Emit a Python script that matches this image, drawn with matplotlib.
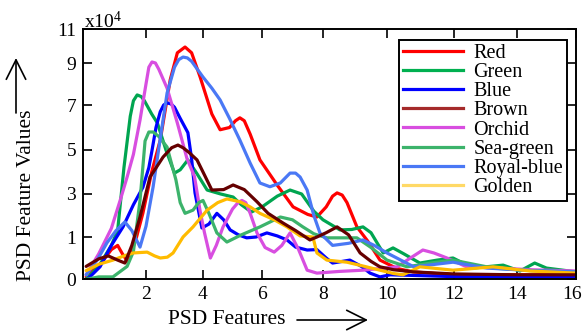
import numpy as np
import matplotlib
matplotlib.use('Agg')
import matplotlib.pyplot as plt
import matplotlib.transforms as mtransforms
from matplotlib.lines import Line2D
from matplotlib.patches import FancyArrowPatch

plt.rcParams['font.family'] = ['Liberation Serif', 'DejaVu Serif']
plt.rcParams['mathtext.fontset'] = 'custom'
plt.rcParams['mathtext.rm'] = 'Liberation Serif'
plt.rcParams['mathtext.it'] = 'Liberation Serif:italic'

# data (y in units of 1e4)
red_x = [0.1, 0.6, 0.9, 1.1, 1.25, 1.43, 1.7, 1.9, 2.2, 2.5, 2.85, 3.1, 3.37, 3.6, 3.9, 4.3, 4.58, 4.9, 5.1,
         5.25, 5.4, 5.6, 5.93, 6.5, 7.02, 7.5, 7.8, 8.1, 8.3, 8.44, 8.6, 8.75, 9.06, 9.4, 9.78, 10.3, 10.78,
         11.97, 13, 14, 15, 16]
red_y = [0.05, 0.4, 0.7, 0.8, 0.6, 0.4, 1.0, 2.1, 4.0, 5.44, 8.2, 9.6, 9.94, 9.6, 8.33, 6.6, 5.9, 6.0, 6.3,
         6.43, 6.3, 5.7, 4.55, 3.4, 2.4, 2.05, 1.93, 2.4, 2.9, 3.05, 2.95, 2.6, 1.47, 0.9, 0.45, 0.25, 0.17,
         0.1, 0.1, 0.1, 0.1, 0.1]

green_x = [0.1, 0.5, 0.9, 1.1, 1.3, 1.5, 1.6, 1.72, 1.85, 1.95, 2.2, 2.4, 2.7, 3.0, 3.2, 3.47, 3.8, 4.14, 4.6,
           5.02, 5.3, 5.64, 6.0, 6.5, 6.92, 7.3, 7.7, 8.0, 8.53, 8.9, 9.25, 9.5, 9.88, 10.18, 10.5, 10.98,
           11.5, 11.97, 12.6, 13.56, 14.1, 14.6, 15.0, 16]
green_y = [0.0, 0.3, 0.8, 1.3, 4.2, 6.5, 7.2, 7.48, 7.4, 7.2, 6.6, 6.2, 5.0, 3.95, 4.1, 4.55, 3.9, 3.18, 3.0,
           2.86, 2.5, 2.16, 2.4, 2.9, 3.18, 3.0, 2.2, 1.8, 1.33, 1.35, 1.47, 1.2, 0.62, 0.74, 0.6, 0.38,
           0.45, 0.5, 0.26, 0.33, 0.19, 0.38, 0.26, 0.17]

blue_x = [0.15, 0.54, 0.9, 1.27, 1.6, 1.9, 2.1, 2.2, 2.35, 2.5, 2.62, 2.74, 2.88, 3.0, 3.19, 3.47, 3.6, 3.72,
          3.96, 4.2, 4.47, 4.7, 4.92, 5.2, 5.48, 5.8, 6.16, 6.5, 6.82, 7.1, 7.48, 7.8, 8.1, 8.3, 8.84, 9.2,
          9.47, 9.78, 10.1, 11, 12.3, 14, 16]
blue_y = [0.0, 0.29, 0.8, 1.47, 2.5, 3.3, 4.2, 4.9, 6.0, 6.7, 7.0, 7.1, 7.05, 6.9, 6.43, 5.77, 4.6, 3.05,
          1.42, 1.6, 2.1, 1.8, 1.33, 1.1, 0.98, 1.0, 1.19, 1.05, 0.93, 0.76, 0.69, 0.7, 0.5, 0.38, 0.45, 0.3,
          0.14, 0.05, 0.1, 0.08, 0.05, 0.05, 0.05]

brown_x = [0.1, 0.5, 0.8, 1.1, 1.33, 1.55, 1.81, 2.14, 2.6, 2.9, 3.12, 3.3, 3.5, 3.79, 4.0, 4.3, 4.7, 5.02,
           5.4, 5.83, 6.2, 6.69, 7.1, 7.57, 7.8, 8.1, 8.44, 8.8, 9.16, 9.5, 9.78, 10.2, 10.78, 12, 14, 16]
brown_y = [0.3, 0.48, 0.55, 0.45, 0.38, 0.8, 1.93, 3.77, 4.68, 5.1, 5.22, 5.1, 4.9, 4.55, 4.0, 3.18, 3.2,
           3.41, 3.2, 2.64, 2.1, 1.65, 1.3, 0.93, 1.0, 1.2, 1.47, 1.1, 0.62, 0.42, 0.29, 0.22, 0.17, 0.12,
           0.1, 0.1]

orchid_x = [0.1, 0.5, 0.9, 1.2, 1.4, 1.6, 1.81, 2.0, 2.1, 2.21, 2.33, 2.45, 2.74, 3.1, 3.44, 3.7, 3.9, 4.05,
            4.25, 4.45, 4.68, 5.0, 5.2, 5.32, 5.45, 5.6, 5.83, 6.1, 6.4, 6.65, 6.92, 7.2, 7.48, 7.8, 8.5,
            9.25, 10.3, 10.7, 11.07, 11.4, 11.79, 12.4, 13.4, 14.5, 16]
orchid_y = [0.1, 0.6, 1.4, 2.8, 3.77, 4.8, 6.33, 8.0, 8.8, 9.06, 9.0, 8.7, 7.8, 6.2, 4.6, 3.8, 2.2, 1.2, 0.5,
            0.8, 1.47, 2.3, 2.62, 2.7, 2.6, 2.1, 1.19, 0.75, 0.64, 0.8, 1.19, 0.7, 0.21, 0.14, 0.18, 0.21,
            0.29, 0.5, 0.69, 0.62, 0.5, 0.29, 0.26, 0.22, 0.19]

seagreen_x = [0.15, 0.5, 0.95, 1.4, 1.6, 1.81, 1.97, 2.1, 2.25, 2.45, 2.74, 3.05, 3.2, 3.37, 3.65, 3.85, 4.0,
              4.2, 4.47, 4.81, 5.3, 5.93, 6.6, 7.0, 7.34, 7.7, 8.12, 8.6, 9.06, 9.5, 10.0, 10.6, 11.3,
              11.97, 13.24, 14.5, 16]
seagreen_y = [0.0, 0.05, 0.05, 0.3, 0.65, 2.7, 5.4, 5.8, 5.8, 5.6, 5.13, 3.64, 2.6, 2.1, 2.25, 2.6, 2.7,
              2.1, 1.19, 0.88, 1.1, 1.47, 1.93, 1.8, 1.47, 1.15, 0.98, 0.98, 0.98, 0.75, 0.45, 0.29, 0.38,
              0.45, 0.26, 0.2, 0.17]

royal_x = [0.1, 0.45, 0.76, 1.05, 1.33, 1.55, 1.81, 2.0, 2.25, 2.5, 2.74, 3.0, 3.15, 3.3, 3.45, 3.6, 4.0,
           4.3, 4.58, 4.9, 5.25, 5.6, 5.93, 6.26, 6.6, 6.92, 7.1, 7.25, 7.48, 7.7, 7.9, 8.3, 8.8, 9.25, 9.6,
           10.0, 10.8, 11.97, 13.05, 14.5, 16]
royal_y = [0.1, 0.45, 0.86, 1.3, 1.7, 1.3, 0.76, 1.5, 3.33, 5.5, 7.57, 8.8, 9.2, 9.35, 9.3, 9.1, 8.33, 7.8,
           7.24, 6.4, 5.44, 4.4, 3.5, 3.33, 3.5, 3.95, 3.95, 3.77, 3.18, 2.0, 1.19, 0.8, 0.85, 0.93, 0.8,
           0.62, 0.29, 0.4, 0.26, 0.2, 0.17]

golden_x = [0.1, 0.5, 0.95, 1.3, 1.59, 2.04, 2.3, 2.5, 2.75, 2.95, 3.3, 3.65, 4.14, 4.5, 4.81, 5.25, 5.6,
            5.93, 6.4, 6.82, 7.25, 7.67, 7.8, 8.12, 8.75, 9.3, 9.78, 10.2, 10.48, 10.98, 11.97, 13.24, 14.44, 16]
golden_y = [0.2, 0.35, 0.45, 0.55, 0.62, 0.64, 0.55, 0.5, 0.52, 0.62, 1.0, 1.47, 2.25, 2.6, 2.77, 2.64, 2.4,
            2.1, 1.8, 1.47, 1.05, 1.0, 0.62, 0.45, 0.4, 0.3, 0.21, 0.13, 0.1, 0.29, 0.21, 0.29, 0.19, 0.14]

labels = ['Red', 'Green', 'Blue', 'Brown', 'Orchid', 'Sea-green', 'Royal-blue', 'Golden']
x_ticks = [0, 2, 4, 6, 8, 10, 12, 14, 16]
y_ticks = [0, 1, 3, 5, 7, 9, 11]

# the original axes are not evenly spaced, stops in pixels
x_stops = [0, 63, 120, 179, 240, 304, 371, 434, 493]
y_stops = [0, 42, 85, 129, 174, 216, 250]

series = [(red_x, red_y, '#ff0000'),
          (green_x, green_y, '#00a550'),
          (blue_x, blue_y, '#0000ff'),
          (orchid_x, orchid_y, '#d84ee0'),
          (seagreen_x, seagreen_y, '#3cb36b'),
          (royal_x, royal_y, '#4a78f5'),
          (golden_x, golden_y, '#ffbb00'),
          (brown_x, brown_y, '#650000')]
legend_cols = {'Red': '#ff0000', 'Green': '#00b050', 'Blue': '#0000ff', 'Brown': '#a52a2a',
               'Orchid': '#d84ee0', 'Sea-green': '#3cb36b', 'Royal-blue': '#4a78f5', 'Golden': '#ffd966'}

fig = plt.figure(figsize=(5.84, 3.31), dpi=100)
ax = fig.add_axes([83/584, 52/331, 493/584, 250/331])
ax.set_xscale('function', functions=(lambda v: np.interp(v, x_ticks, x_stops),
                                      lambda v: np.interp(v, x_stops, x_ticks)))
ax.set_yscale('function', functions=(lambda v: np.interp(v, y_ticks, y_stops),
                                      lambda v: np.interp(v, y_stops, y_ticks)))

for xs, ys, c in series:
    ax.plot(xs, ys, color=c, lw=2.3, solid_joinstyle='round', solid_capstyle='round')

ax.set_xlim(0, 16)
ax.set_ylim(0, 11)
ax.set_xticks(x_ticks[1:])
ax.set_xticklabels([str(t) for t in x_ticks[1:]])
ax.set_yticks(y_ticks)
ax.set_yticklabels([str(t) for t in y_ticks])
ax.tick_params(direction='in', length=6.5, width=1.2, top=True, right=True, labelsize=14, pad=5)
for s in ax.spines.values():
    s.set_linewidth(1.4)
# keep the last x label inside the figure
last = ax.get_xticklabels()[-1]
last.set_transform(last.get_transform() + mtransforms.ScaledTranslation(-4/100, 0, fig.dpi_scale_trans))

handles = [Line2D([], [], color=legend_cols[l], lw=2.3) for l in labels]
leg = ax.legend(handles, labels, loc='upper right', bbox_to_anchor=(0.982, 0.956), borderaxespad=0,
                fontsize=14.5, labelspacing=0.0, handlelength=3.0, handletextpad=0.5, borderpad=0.2,
                fancybox=False, framealpha=1, edgecolor='black')
leg.get_frame().set_linewidth(1.4)

fig.text(84/584, 1 - 28/331, 'x10$^4$', fontsize=14, va='baseline')
fig.text(27/584, 1 - 195/331, 'PSD Feature Values', rotation=90, ha='center', va='center', fontsize=15.5)
fig.text(227/584, 1 - 320/331, 'PSD Features', ha='center', va='center', fontsize=15.5)

arr = dict(arrowstyle='->,head_length=1.4,head_width=0.7', mutation_scale=10, lw=1.2, color='black',
           shrinkA=0, shrinkB=0, transform=fig.transFigure)
fig.add_artist(FancyArrowPatch((16/584, 1 - 113/331), (16/584, 1 - 58/331), **arr))
fig.add_artist(FancyArrowPatch((297/584, 1 - 320/331), (368/584, 1 - 320/331), **arr))

fig.savefig('out.png', dpi=100)
